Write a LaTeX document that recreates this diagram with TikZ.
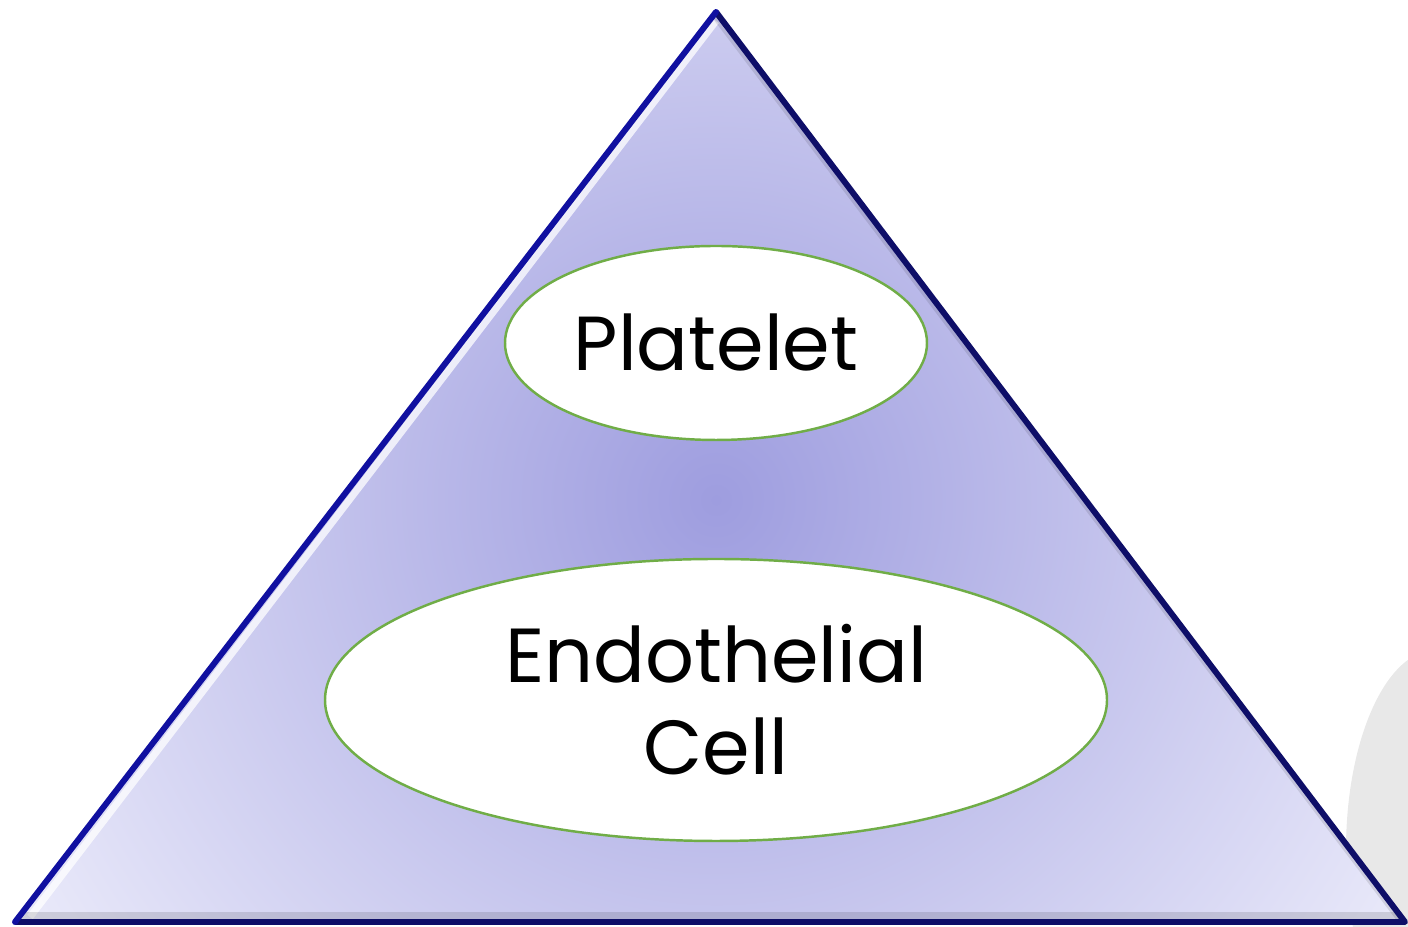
\documentclass[tikz,border=0pt]{standalone}
\usepackage{fontspec}
\setmainfont{Poppins}
\usepackage{tikz}
\usetikzlibrary{shapes.geometric}
\usepackage{xcolor}
\definecolor{edgeblue}{RGB}{14,14,104}
\definecolor{litblue}{RGB}{16,16,160}
\definecolor{cellgreen}{RGB}{112,173,71}
\definecolor{coreviolet}{RGB}{158,157,223}
\definecolor{rimviolet}{RGB}{234,234,250}

\begin{document}
\begin{tikzpicture}[line join=round,
  cell/.style={ellipse,draw=cellgreen,line width=0.7pt,fill=white,inner sep=0pt,
    align=center,font=\fontsize{21.8}{26.2}\selectfont}]
\useasboundingbox (0,0) rectangle (14.08,9.27);
\begin{scope}
\clip (0,0) rectangle (14.08,9.27);
\fill[gray!18] (14.36,0.77) ellipse (0.9 and 2.0);
\end{scope}
\coordinate (apex) at (7.16,9.15);
\coordinate (left) at (0.15,0.05);
\coordinate (right) at (14.05,0.05);
% radial fill of the pyramid
\begin{scope}
\clip (apex) -- (left) -- (right) -- cycle;
\shade[inner color=coreviolet,outer color=rimviolet] (7.16,4.27) circle (8.1);
\draw[white,line width=2pt,opacity=0.75] (7.16,9.06) -- (0.3,0.1);
\draw[black,line width=3pt,opacity=0.12] (0,0.1) -- (14.08,0.1);
\draw[black,line width=2pt,opacity=0.1] (7.16,9.1) -- (14.0,0.08);
\end{scope}
\draw[edgeblue,line width=1.7pt] (apex) -- (right) -- (left);
\draw[litblue,line width=1.7pt,line cap=round] (left) -- (apex);
\node[cell,minimum width=4.22cm,minimum height=1.94cm] (platelet) at (7.16,5.84) {Platelet};
\node[cell,minimum width=7.82cm,minimum height=2.82cm] (endo) at (7.16,2.27) {Endothelial\\Cell};
\end{tikzpicture}
\end{document}
